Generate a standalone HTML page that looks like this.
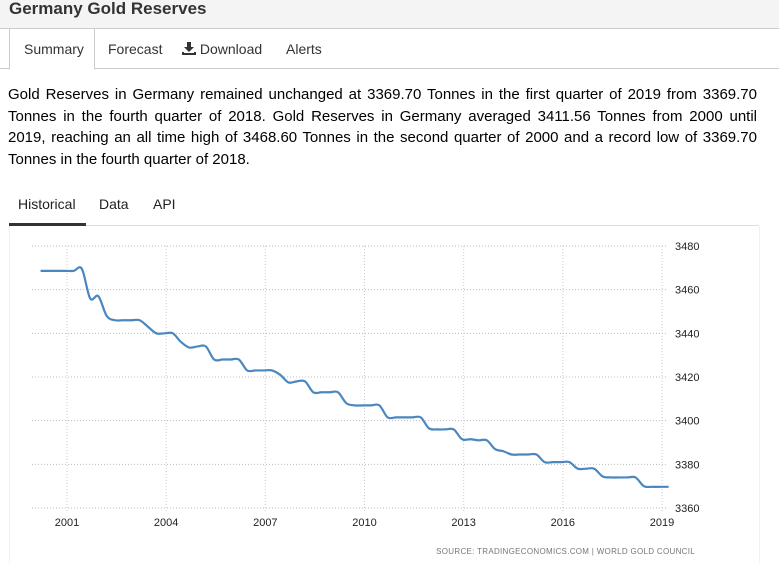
<!DOCTYPE html>
<html><head><meta charset="utf-8"><style>
body{margin:0;width:779px;height:563px;overflow:hidden;background:#fff;font-family:"Liberation Sans",sans-serif;color:#000;position:relative}
.hdr{position:absolute;left:0;top:0;width:779px;height:28px;background:#f4f4f4;border-bottom:1px solid #ccc}
.hdr h1{margin:0;position:absolute;left:9px;top:-1px;font-size:17px;font-weight:bold;color:#333}
.tabs{position:absolute;left:0;top:29px;width:779px;height:39px;border-bottom:1px solid #ccc}
.tab{position:absolute;top:12px;font-size:14px;color:#333}
.tab.act{left:9px;top:0;width:84px;height:40px;border:1px solid #ccc;border-top:none;border-bottom:1px solid #fff;background:#fff}
.tab.act span{position:absolute;left:14px;top:12px}
.para{position:absolute;left:8px;top:84px;width:749px;margin:0;font-size:15px;line-height:21.5px}
.para div{text-align:justify;text-align-last:justify;white-space:nowrap}
.para div.last{text-align-last:left}
.t2{position:absolute;top:196px;font-size:14px;color:#222}
.line2{position:absolute;left:10px;top:225px;width:749px;height:1px;background:#ddd}
.ul{position:absolute;left:9px;top:223px;width:77px;height:3px;background:#333}
.box{position:absolute;left:9px;top:226px;width:749px;height:337px;border-left:1px solid #f0f0f0;border-right:1px solid #f0f0f0}
</style></head><body>
<div class="hdr"><h1>Germany Gold Reserves</h1></div>
<div class="tabs">
<div class="tab act"><span>Summary</span></div>
<div class="tab" style="left:108px">Forecast</div>
<div class="tab" style="left:182px"><svg width="14" height="13" viewBox="0 0 14 13" style="vertical-align:-1px"><path d="M5 0h4v5h3l-5 5-5-5h3z M0 10h2v1h10v-1h2v3H0z" fill="#333"/></svg> Download</div>
<div class="tab" style="left:286px">Alerts</div>
</div>
<div class="para">
<div>Gold Reserves in Germany remained unchanged at 3369.70 Tonnes in the first quarter of 2019 from 3369.70</div>
<div>Tonnes in the fourth quarter of 2018. Gold Reserves in Germany averaged 3411.56 Tonnes from 2000 until</div>
<div>2019, reaching an all time high of 3468.60 Tonnes in the second quarter of 2000 and a record low of 3369.70</div>
<div class="last">Tonnes in the fourth quarter of 2018.</div>
</div>
<div class="t2" style="left:18px">Historical</div>
<div class="t2" style="left:99px">Data</div>
<div class="t2" style="left:153px">API</div>
<div class="line2"></div>
<div class="ul"></div>
<div class="box"></div>
<svg id="chart" width="779" height="563" style="position:absolute;left:0;top:0"></svg>
<script>
const startYear = 2000.2;
const values = [3468.6,3468.6,3468.6,3468.6, 3468.6,3469.5,3456,3457, 3448,3446,3446,3446, 3446,3443,3440,3440,
3440,3436,3433.5,3434, 3434,3428,3428,3428, 3428,3423,3423,3423, 3423,3421,3417.5,3418, 3418,3413,3413,3413,
3413,3408,3407,3407, 3407,3407,3401.5,3401.5, 3401.5,3401.5,3401.5,3396.5, 3396,3396,3396,3391.5,
3391.5,3391,3391,3387, 3386,3384.5,3384.5,3384.5, 3384.5,3381,3381,3381, 3381,3378,3378,3378,
3374.5,3374,3374,3374, 3374,3370,3369.7,3369.7, 3369.7];
const yTicks = [3360,3380,3400,3420,3440,3460,3480];
const xTicks = [2001,2004,2007,2010,2013,2016,2019];
const NS='http://www.w3.org/2000/svg';
const svg=document.getElementById('chart');
const X=y=>67+(y-2001)*(595/18);
const Y=v=>508-(v-3360)*(262/120);
function mk(t,a){const e=document.createElementNS(NS,t);for(const k in a)e.setAttribute(k,a[k]);svg.appendChild(e);return e;}
yTicks.forEach(v=>{
  const l=mk('line',{x1:32,x2:668,y1:Y(v),y2:Y(v),stroke:'#bbb','stroke-dasharray':'1,2'});
  
  
  const t=mk('text',{x:675,y:Y(v)+4,'font-size':11,fill:'#222'});t.textContent=v;
  
  
});
xTicks.forEach(yr=>{
  const l=mk('line',{x1:X(yr),x2:X(yr),y1:246,y2:512,stroke:'#ccc','stroke-dasharray':'1,2'});
  
  
  const t=mk('text',{x:X(yr),y:526,'font-size':11,fill:'#222','text-anchor':'middle'});t.textContent=yr;
  
  
});
const pts=values.map((v,i)=>[X(startYear+i*0.25),Y(v)]);
let d='M'+pts[0][0]+','+pts[0][1];
for(let i=0;i<pts.length-1;i++){
  const p0=pts[Math.max(0,i-1)],p1=pts[i],p2=pts[i+1],p3=pts[Math.min(pts.length-1,i+2)];
  const k=0.5/3;
  d+=' C'+(p1[0]+(p2[0]-p0[0])*k)+','+(p1[1]+(p2[1]-p0[1])*k)+' '+(p2[0]-(p3[0]-p1[0])*k)+','+(p2[1]-(p3[1]-p1[1])*k)+' '+p2[0]+','+p2[1];
}
const path=mk('path',{d:d,fill:'none',stroke:'#4a86bf','stroke-width':2.2});


const s=mk('text',{x:695,y:554,'font-size':8,fill:'#777','text-anchor':'end','letter-spacing':'0.3'});
s.textContent='SOURCE: TRADINGECONOMICS.COM  |  WORLD GOLD COUNCIL';


</script>
</body></html>
